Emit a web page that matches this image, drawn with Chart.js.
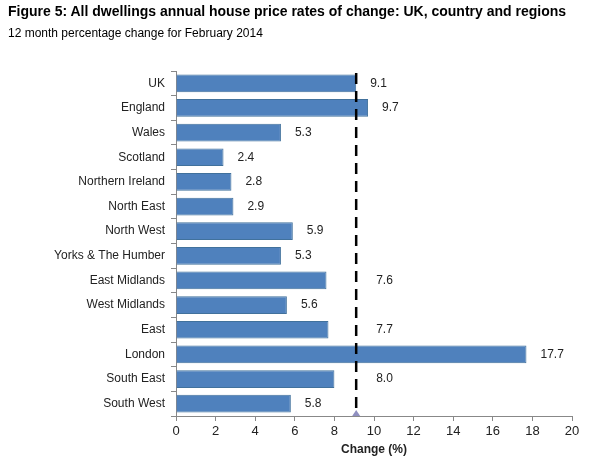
<!DOCTYPE html>
<html>
<head>
<script src="https://cdn.jsdelivr.net/npm/chart.js@4"></script>
<style>
body{margin:0;background:#fff;font-family:"Liberation Sans",Arial,sans-serif}
#t{position:absolute;left:8px;top:3px;font-size:14px;font-weight:bold}
#s{position:absolute;left:8px;top:26px;font-size:12px}
#wrap{position:absolute;left:0;top:0;width:599px;height:459px}
</style>
</head>
<body>
<div id="wrap"><canvas id="c" width="599" height="459"></canvas></div>
<div id="t">Figure 5: All dwellings annual house price rates of change: UK, country and regions</div>
<div id="s">12 month percentage change for February 2014</div>
<script>
const regions = ["UK","England","Wales","Scotland","Northern Ireland","North East","North West","Yorks & The Humber","East Midlands","West Midlands","East","London","South East","South West"];
const change = [9.1,9.7,5.3,2.4,2.8,2.9,5.9,5.3,7.6,5.6,7.7,17.7,8.0,5.8];
const ukRate = 9.1;

const extras = {
  id:"extras",
  afterDatasetsDraw(ch){
    const ctx = ch.ctx, x = ch.scales.x, area = ch.chartArea;
    const lx = x.getPixelForValue(ukRate);
    ctx.save();
    ctx.strokeStyle = "#000"; ctx.lineWidth = 2.5; ctx.setLineDash([11,7]);
    ctx.beginPath(); ctx.moveTo(lx, area.top+2); ctx.lineTo(lx, area.bottom); ctx.stroke();
    ctx.setLineDash([]);
    ctx.fillStyle = "#8f8fc0";
    ctx.beginPath(); ctx.moveTo(lx-4, area.bottom); ctx.lineTo(lx+4, area.bottom); ctx.lineTo(lx, area.bottom-6); ctx.fill();
    ctx.font = "12px 'Liberation Sans', Arial";
    ctx.textBaseline = "middle";
    ch.getDatasetMeta(0).data.forEach((b,i)=>{
      const t = change[i].toFixed(1);
      const w = ctx.measureText(t).width;
      let px = b.x + 14;
      if (px + w + 4 > lx - 4 && px < lx + 10) px = lx + 20;
      ctx.fillStyle = "#fff"; ctx.fillRect(px-3, b.y-9, w+6, 18);
      ctx.fillStyle = "#222"; ctx.fillText(t, px, b.y);
    });
    ctx.restore();
  }
};

new Chart(document.getElementById("c"),{
  type:"bar",
  data:{labels:regions,datasets:[{data:change,backgroundColor:"#4f81bd",borderColor:"#41719c",borderWidth:1,categoryPercentage:0.8,barPercentage:0.9}]},
  options:{
    indexAxis:"y",responsive:false,animation:false,
    layout:{padding:{top:71,right:27,left:8,bottom:0}},
    plugins:{legend:{display:false},tooltip:{enabled:false}},
    scales:{
      x:{min:0,max:20,ticks:{stepSize:2,color:"#222",font:{size:13,family:"Liberation Sans"}},
         grid:{drawOnChartArea:false,color:"#888",tickLength:5},border:{color:"#888"},
         title:{display:true,text:"Change (%)",font:{size:12,weight:"bold",family:"Liberation Sans"},color:"#222",padding:{top:0,bottom:2}}},
      y:{ticks:{color:"#222",font:{size:12,family:"Liberation Sans"},padding:6},
         grid:{drawOnChartArea:false,color:"#888",tickLength:5},border:{color:"#888"},
         afterFit(s){s.width=168;}}
    }
  },
  plugins:[extras]
});
</script>
</body>
</html>
